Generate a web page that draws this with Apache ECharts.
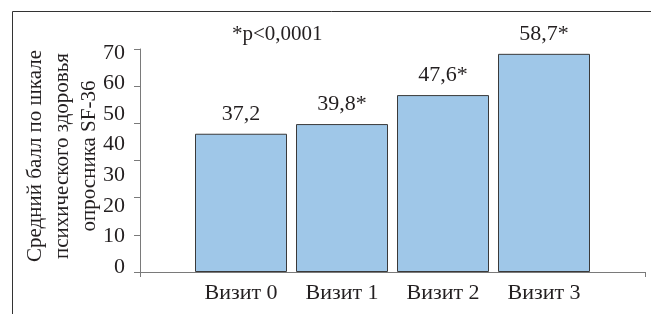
<!DOCTYPE html>
<html>
<head>
<meta charset="utf-8">
<script src="https://cdn.jsdelivr.net/npm/echarts@6/dist/echarts.min.js"></script>
<style>
  html, body { margin: 0; padding: 0; background: #fff; }
  #visitScoreBar { width: 651px; height: 314px; }
</style>
</head>
<body>
<div id="visitScoreBar"></div>
<script>
  // визиты и средний балл SF-36 (психическое здоровье)
  const visits = ['Визит 0', 'Визит 1', 'Визит 2', 'Визит 3']
  const scores = [37.2, 39.8, 47.6, 58.7]
  const signif = ['', '*', '*', '*'] // * p<0,0001
  const yTicks = [0, 10, 20, 30, 40, 50, 60, 70]

  const fontFamily = '"Liberation Serif", "DejaVu Serif", serif'
  const textColor = '#231f20'
  const lineColor = '#7a7a7a'

  // пустые категории по краям, чтобы столбцы стояли как в оригинале
  const cats = [''].concat(visits, [''])
  const barData = [null].concat(scores, [null])

  const chart = echarts.init(document.getElementById('visitScoreBar'))
  chart.setOption({
    animation: false,
    title: {
      text: '*p<0,0001',
      left: 227,
      top: 19,
      textStyle: { fontFamily: fontFamily, fontSize: 21, fontWeight: 'normal', color: textColor }
    },
    graphic: [{
      type: 'line',
      shape: { x1: 12.5, y1: 11.5, x2: 651, y2: 11.5 },
      style: { stroke: '#333', lineWidth: 1 }
    }, {
      type: 'line',
      shape: { x1: 12.5, y1: 11.5, x2: 12.5, y2: 314 },
      style: { stroke: '#333', lineWidth: 1 }
    }, {
      type: 'text',
      x: 62,
      y: 156,
      rotation: Math.PI / 2,
      style: {
        text: 'Средний балл по шкале\nпсихического здоровья\nопросника SF-36',
        fontFamily: fontFamily,
        fontSize: 21,
        lineHeight: 27,
        fill: textColor,
        align: 'center',
        verticalAlign: 'middle'
      }
    }],
    grid: [
      { left: 140, right: 6, top: 49, bottom: 42 },
      { left: 140, right: 6, top: 53, bottom: 47 }
    ],
    xAxis: [{
      type: 'category',
      gridIndex: 0,
      boundaryGap: false,
      data: cats,
      axisLine: { lineStyle: { color: lineColor, width: 1 } },
      axisTick: {
        show: true,
        length: 5,
        interval: function (index) { return index === 0 || index === cats.length - 1 },
        lineStyle: { color: lineColor }
      },
      axisLabel: {
        interval: 0,
        margin: 10,
        fontFamily: fontFamily,
        fontSize: 22,
        color: textColor
      },
      splitLine: { show: false }
    }, {
      type: 'value',
      gridIndex: 1,
      show: false
    }],
    yAxis: [{
      type: 'value',
      gridIndex: 0,
      min: 0,
      max: 60,
      interval: 10,
      axisLine: { show: true, lineStyle: { color: lineColor, width: 1 } },
      axisTick: { show: true, length: 6, lineStyle: { color: lineColor } },
      axisLabel: { show: false },
      splitLine: { show: false }
    }, {
      // подписи шкалы 0–70 как в исходной картинке
      type: 'value',
      gridIndex: 1,
      min: yTicks[0],
      max: yTicks[yTicks.length - 1],
      interval: 10,
      axisLine: { show: false },
      axisTick: { show: false },
      splitLine: { show: false },
      axisLabel: {
        margin: 15,
        fontFamily: fontFamily,
        fontSize: 22,
        color: textColor
      }
    }],
    series: [{
      type: 'bar',
      xAxisIndex: 0,
      yAxisIndex: 0,
      barWidth: 92,
      data: barData,
      itemStyle: {
        color: '#9fc7e8',
        borderColor: '#3a3a3a',
        borderWidth: 1
      },
      label: {
        show: true,
        position: 'top',
        distance: 9,
        fontFamily: fontFamily,
        fontSize: 22,
        color: textColor,
        formatter: function (p) {
          return p.value.toFixed(1).replace('.', ',') + signif[p.dataIndex - 1]
        }
      }
    }]
  })
</script>
</body>
</html>
